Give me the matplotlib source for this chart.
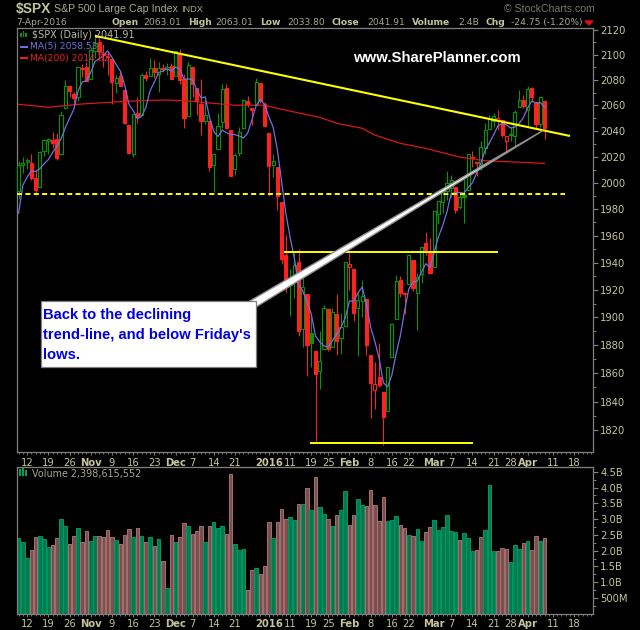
import matplotlib
matplotlib.use("Agg")
import matplotlib.pyplot as plt
from matplotlib.patches import Polygon, Rectangle
from matplotlib.ticker import FixedLocator, NullFormatter

opens = [1994.01,2013.73,2015.65,2015.00,2003.66,1996.47,2024.37,2031.73,2033.13,2033.47,2021.88,2058.19,2075.08,2068.75,2066.48,2088.35,2090.00,
 2080.76,2102.63,2110.60,2101.68,2098.60,2096.56,2077.19,2083.41,2072.29,2044.64,2022.08,2053.67,2051.99,2083.70,2082.82,2089.41,2084.42,2089.30,2088.82,2090.95,
 2082.93,2101.71,2080.71,2051.24,2090.42,2073.39,2061.17,2047.93,2047.27,2013.37,2025.55,2046.50,2073.76,2040.81,2010.27,2023.15,2042.20,2063.52,2057.77,2060.54,2077.34,2060.59,
 2038.20,2013.78,2011.71,1985.32,1945.97,1926.12,1927.83,1940.34,1891.68,1916.68,1888.66,1876.18,1861.46,1877.40,1906.28,1878.79,1902.52,1885.22,1894.00,
 1936.94,1935.26,1907.07,1911.67,1913.07,1873.25,1848.46,1857.10,1847.00,1833.40,1871.44,1898.80,1927.57,1916.74,1924.44,1942.38,1917.56,1931.87,1954.95,1947.13,
 1937.09,1976.60,1985.60,1994.01,1996.11,1996.88,1981.44,1990.97,1994.71,2019.27,2015.27,2014.24,2026.90,2041.16,2047.88,2048.64,2048.55,2032.48,2037.89,2035.75,2058.27,2063.77,
 2056.62,2073.19,2062.50,2045.56,2063.01]
highs = [2016.50,2020.13,2018.66,2022.34,2009.56,2024.15,2033.54,2034.45,2039.12,2037.97,2055.20,2079.74,2075.14,2070.37,2090.35,2092.52,2094.32,
 2106.20,2116.48,2114.59,2108.78,2101.91,2096.56,2083.67,2086.94,2072.29,2044.64,2053.22,2066.69,2085.31,2086.74,2097.06,2095.61,2094.12,2093.00,2093.29,2093.81,
 2103.37,2104.27,2085.00,2093.84,2090.42,2073.85,2080.33,2067.65,2047.27,2022.92,2053.87,2076.72,2076.37,2040.81,2022.90,2042.74,2064.73,2067.36,2057.77,2081.56,2077.34,2062.54,
 2038.20,2021.94,2011.71,1985.32,1960.40,1935.65,1947.38,1950.33,1934.47,1916.68,1901.44,1876.18,1889.85,1908.85,1906.28,1906.73,1916.99,1902.96,1940.24,
 1947.20,1935.26,1918.01,1927.35,1913.07,1873.25,1868.25,1881.60,1847.00,1864.78,1895.77,1930.68,1930.00,1918.78,1946.70,1942.38,1932.08,1951.83,1962.96,1958.27,
 1978.35,1986.51,1993.69,2009.13,2006.12,1996.88,1992.69,2005.08,2022.37,2024.57,2015.94,2032.02,2046.24,2052.36,2053.91,2056.60,2048.55,2036.04,2042.67,2055.91,2072.21,2067.92,
 2075.07,2074.02,2062.50,2067.33,2063.01]
lows = [1987.53,2007.61,2010.55,2001.78,1990.73,1996.47,2020.46,2022.31,2026.61,2017.22,2021.88,2058.19,2066.53,2058.84,2063.11,2082.63,2079.34,
 2080.76,2097.51,2096.98,2090.41,2083.74,2060.92,2069.91,2074.85,2045.66,2022.02,2019.39,2045.90,2051.99,2078.76,2082.82,2081.39,2070.29,2086.30,2084.13,2080.41,
 2082.93,2077.11,2042.35,2051.24,2066.78,2052.32,2036.53,2045.67,2008.80,1993.26,2025.55,2042.43,2041.66,2005.33,2005.93,2020.49,2042.20,2058.73,2044.20,2060.54,2061.97,2043.62,
 1989.68,2004.17,1979.05,1938.83,1918.46,1901.10,1914.35,1886.41,1878.93,1857.83,1864.60,1812.29,1848.98,1877.40,1875.97,1878.79,1872.70,1873.65,1894.00,
 1920.30,1897.29,1872.23,1900.52,1872.65,1828.46,1834.94,1850.32,1810.10,1833.40,1871.44,1898.80,1915.09,1902.17,1924.44,1919.44,1891.00,1925.41,1945.78,1931.81,
 1937.09,1968.80,1977.37,1986.77,1989.38,1977.43,1979.84,1969.25,1994.71,2012.05,2005.23,2010.04,2022.16,2041.16,2043.14,2040.57,2034.86,2022.49,2031.96,2028.31,2058.27,2057.46,
 2043.98,2062.57,2042.56,2043.09,2033.80]
closes = [2013.43,2014.89,2017.46,2003.69,1994.24,2023.86,2033.11,2033.66,2030.77,2018.94,2052.51,2075.15,2071.18,2065.89,2090.35,2089.41,2079.36,
 2104.05,2109.79,2102.31,2099.93,2099.20,2078.58,2081.72,2075.00,2045.97,2023.04,2053.19,2050.44,2083.58,2081.24,2089.17,2086.59,2089.14,2088.87,2090.11,2080.41,
 2102.63,2079.51,2049.62,2091.69,2077.07,2063.59,2047.62,2052.23,2012.37,2021.94,2043.41,2073.07,2041.89,2005.55,2021.15,2038.97,2064.29,2060.99,2056.50,2078.36,2063.36,2043.94,
 2012.66,2016.71,1990.26,1943.09,1922.03,1923.67,1938.68,1890.28,1921.84,1880.33,1881.33,1859.33,1868.99,1906.90,1877.08,1903.63,1882.95,1893.36,1940.24,
 1939.38,1903.03,1912.53,1915.45,1880.05,1853.44,1852.21,1851.86,1829.08,1864.78,1895.58,1926.82,1917.83,1917.78,1945.50,1921.27,1929.80,1951.70,1948.05,1932.23,
 1978.35,1986.45,1993.40,1999.99,2001.76,1979.26,1989.26,1989.57,2022.19,2019.64,2015.93,2027.22,2040.59,2049.58,2051.60,2049.80,2036.71,2035.94,2037.05,2055.01,2063.95,2059.74,
 2072.78,2066.13,2045.17,2066.66,2041.91]
ma5 = [1977.0,1998.2,2004.3,2009.1,2008.7,2010.8,2014.5,2017.7,2023.1,2028.1,2033.8,2042.2,2049.7,2056.7,2071.0,2078.4,2079.2,
 2085.8,2094.6,2097.0,2099.1,2103.1,2098.0,2092.3,2086.9,2076.1,2060.9,2055.8,2049.5,2051.2,2058.3,2071.5,2078.2,2085.9,2087.0,2088.8,2087.0,
 2090.2,2088.3,2080.5,2080.8,2080.1,2072.3,2065.9,2066.4,2050.6,2039.6,2035.5,2040.6,2038.5,2037.2,2037.0,2036.1,2034.4,2038.2,2048.4,2059.8,2064.7,2060.6,
 2051.0,2043.0,2025.4,2001.3,1977.0,1959.2,1943.5,1923.6,1919.3,1911.0,1902.5,1886.6,1882.4,1879.4,1878.7,1883.2,1887.9,1892.8,1899.5,
 1911.9,1911.8,1917.7,1922.1,1910.1,1892.9,1882.7,1870.6,1853.3,1850.3,1858.7,1873.6,1886.8,1904.6,1920.7,1925.8,1926.4,1933.2,1939.3,1936.6,
 1948.0,1959.4,1967.7,1978.1,1992.0,1992.2,1992.7,1992.0,1996.4,2000.0,2007.3,2014.9,2025.1,2030.6,2037.0,2043.8,2045.7,2044.7,2042.2,2042.9,2045.7,2050.3,
 2057.7,2063.5,2061.6,2062.1,2058.5]
ma200_idx = [0,7,15,23,29,35,40,46,51,58,62,71,75,81,84,90,96,104,110,121,124]
ma200 = [2060.7,2058.4,2061.0,2062.6,2063.6,2064.1,2063.3,2061.5,2060.0,2060.0,2056.8,2050.5,2045.9,2042.0,2036.7,2030.3,2026.4,2019.7,2016.9,2015.3,2014.8]
volume = [2.40,2.27,1.76,2.02,2.43,2.46,2.37,2.11,2.18,2.40,
 3.00,2.78,2.21,2.46,2.71,2.27,2.62,2.30,2.46,2.46,
 2.43,2.65,2.43,2.33,2.21,2.49,2.68,2.43,2.71,2.46,
 2.27,2.43,2.14,2.37,1.67,0.82,2.49,2.27,2.43,2.87,
 2.78,2.52,2.62,2.78,2.27,2.78,2.90,2.71,2.78,2.52,
 4.42,2.21,2.02,2.05,0.75,1.39,1.45,1.26,1.51,2.90,
 2.40,2.90,3.32,3.00,3.06,2.97,3.47,3.47,3.98,3.28,
 4.33,3.38,3.16,3.00,2.78,3.13,3.28,3.88,2.81,3.13,
 3.63,3.44,3.41,3.92,3.44,2.94,3.70,2.94,2.97,3.09,
 2.81,2.71,2.49,2.46,2.68,2.30,2.59,2.75,2.97,2.65,
 2.75,3.13,2.62,2.59,2.33,2.56,2.40,1.99,2.02,2.43,
 2.65,4.08,1.99,1.99,2.08,2.05,1.64,2.18,2.05,2.24,
 2.30,2.02,2.46,2.30,2.40]
volume_dir = ("gggrrgggrr" "ggrrgrrggr" "rrrgrrrgrg" "rgrgrgrgrr" "grrrgrgggr"
              "rgggrrgrrr" "grrrggrgrg" "rggrgrggrr" "ggrrrrrggg" "rrgrggrrgg"
              "ggggrgggrr" "gggrrrgggr" "grrgr")
tick_idx = [2,7,12,17,22,27,32,37,41,46,51,59,64,69,73,78,83,88,92,98,102,107,112,116,120,126,131]
tick_lab = ["12","19","26","Nov","9","16","23","Dec","7","14","21","2016","11","19","25","Feb","8","16","22","Mar","7","14","21","28","Apr","11","18"]
bold_lab = {"Nov","Dec","2016","Feb","Mar","Apr"}
price_ticks = [1820,1840,1860,1880,1900,1920,1940,1960,1980,2000,2020,2040,2060,2080,2100,2120]
vol_ticks = [0.5,1,1.5,2,2.5,3,3.5,4,4.5]
vol_tick_lab = ["500M","1.0B","1.5B","2.0B","2.5B","3.0B","3.5B","4.0B","4.5B"]

W, H = 640, 630
BG = "#000000"; AX = "#808080"; TXT = "#c4c49c"; VAL = "#a8a890"
GREEN = "#009a00"; RED = "#ff2020"; BLUE = "#7070e0"; YEL = "#ffff00"
plt.rcParams["font.family"] = ["DejaVu Sans"]
fig = plt.figure(figsize=(W/100, H/100), dpi=100, facecolor=BG)
def rect(x0, y0, x1, y1):
    return [x0/W, 1-y1/H, (x1-x0)/W, (y1-y0)/H]
def ftext(x, y, s, **k):
    k.setdefault("va", "center"); k.setdefault("ha", "left")
    fig.text(x/W, 1-y/H, s, **k)

ax = fig.add_axes(rect(16.5, 28.4, 593.3, 452.3), facecolor=BG)
ax2 = fig.add_axes(rect(16.5, 466.7, 593.3, 613.8), facecolor=BG)
n = len(closes)
xs = list(range(n))
prev = [1995.83] + closes[:-1]
col = [GREEN if c > p else RED for c, p in zip(closes, prev)]

ax.set_yscale("log")
ax.vlines(xs, lows, highs, colors=col, lw=0.75, zorder=2)
bot = [min(o, c) for o, c in zip(opens, closes)]
hgt = [max(abs(c-o), 0.3) for o, c in zip(opens, closes)]
face = [k if c < o else BG for k, o, c in zip(col, opens, closes)]
ax.bar(xs, hgt, 0.74, bot, color=face, edgecolor=col, lw=0.8, zorder=3)
ax.plot(ma200_idx, ma200, color="#d81818", lw=0.9, zorder=4)
ax.plot(xs, ma5, color=BLUE, lw=0.9, zorder=5)

# drawn annotations, in data coordinates
ax.plot([18, 130], [2115.2, 2036.0], color=YEL, lw=1.5, zorder=7, solid_capstyle="butt")
ax.plot([-0.5, 128.9], [1991.6, 1991.6], color=YEL, lw=1.4, ls=(0, (2.6, 1.7)), zorder=6)
ax.plot([62.8, 112.9], [1947.9, 1947.9], color=YEL, lw=1.4, zorder=6)
ax.plot([68.9, 106.9], [1811.1, 1811.1], color=YEL, lw=1.4, zorder=6)

ax.set_xlim(-0.5, 135.5)
ax.set_ylim(1804.8, 2121.2)
ax.yaxis.set_major_locator(FixedLocator(price_ticks))
ax.yaxis.set_minor_locator(FixedLocator([p+10 for p in price_ticks[:-1]]))
ax.yaxis.set_minor_formatter(NullFormatter())
ax.set_yticklabels([str(p) for p in price_ticks])

ax2.bar(xs, volume, 0.84,
        color=["#007a50" if d == "g" else "#7a4f50" for d in volume_dir],
        edgecolor=["#009a60" if d == "g" else "#a87070" for d in volume_dir], lw=0.7)
ax2.set_xlim(-0.5, 135.5)
ax2.set_ylim(0, 4.66)
ax2.set_yticks(vol_ticks, vol_tick_lab)
ax2.yaxis.set_minor_locator(FixedLocator([v+0.25 for v in vol_ticks[:-1]] + [0.25]))

for a in (ax, ax2):
    for s in a.spines.values():
        s.set_color(AX); s.set_linewidth(0.9)
    a.yaxis.tick_right()
    a.tick_params(axis="y", which="major", right=True, left=False, colors=AX, labelcolor=TXT,
                  labelsize=7.2, length=3.5, width=0.8, pad=1.5)
    a.tick_params(axis="y", which="minor", right=True, left=False, colors=AX, length=2, width=0.7)
    a.set_xticks(tick_idx)
    a.set_xticklabels(tick_lab)
    a.xaxis.set_minor_locator(FixedLocator(range(0, 136)))
    a.tick_params(axis="x", which="major", colors=AX, labelcolor=TXT, labelsize=7.2, length=2.5, width=0.7, pad=1.5)
    a.tick_params(axis="x", which="minor", colors=AX, length=1.5, width=0.6)
    for t in a.get_xticklabels():
        if t.get_text() in bold_lab:
            t.set_fontweight("bold")

# header
LS = "Liberation Sans"
ftext(16, 9.5, "$SPX", color=TXT, fontsize=9.9, fontweight="bold", family=LS)
ftext(54, 9.5, "S&P 500 Large Cap Index", color=VAL, fontsize=7.7, family=LS)
ftext(181, 9.5, "INDX", color=VAL, fontsize=6.6, family=LS)
ftext(504, 9.5, "\u00a9 StockCharts.com", color="#78786a", fontsize=7.6, family=LS)
ftext(16, 22.5, "7-Apr-2016", color=VAL, fontsize=6.6)
row = [(111,"Open",1),(143,"2063.01",0),(188,"High",1),(215,"2063.01",0),(260,"Low",1),(287,"2033.80",0),
       (332,"Close",1),(367,"2041.91",0),(412,"Volume",1),(458,"2.4B",0),(486,"Chg",1),(511,"-24.75 (-1.20%)",0)]
for x, s, b in row:
    ftext(x, 22.5, s, color=TXT if b else VAL, fontsize=6.6, fontweight="bold" if b else "normal")
fig.add_artist(Polygon([[585/W, 1-21/H], [593/W, 1-21/H], [589/W, 1-25/H]], color="#e01010", transform=fig.transFigure))

# legend labels
ftext(32, 35.5, "$SPX (Daily) 2041.91", color="#b8b8a8", fontsize=6.9)
ftext(30, 46.5, "MA(5) 2058.53", color=BLUE, fontsize=6.6)
ftext(30, 58, "MA(200) 2014.82", color="#f02020", fontsize=6.6)
ftext(353, 58, "www.SharePlanner.com", color="white", fontsize=10.7, fontweight="bold", family=LS)
ftext(32, 473.6, "Volume 2,398,615,552", color=VAL, fontsize=6.9)

# pixel-placed legend glyphs and call-out
def P(pts):
    return [(x/W, 1-y/H) for x, y in pts]
for (x0, y0, x1, y1, c) in [(20,46,28,47.5,BLUE),(20,57,28,58.5,"#f02020"),
                            (20,33,21.5,37,GREEN),(22.5,31,24,37,GREEN),(25,33,26.5,37,GREEN),
                            (19,469,21,476,"#00a060"),(22,468,24,476,"#00a060"),(25,470,27,476,"#00a060")]:
    fig.add_artist(Rectangle((x0/W, 1-y1/H), (x1-x0)/W, (y1-y0)/H, color=c, lw=0, transform=fig.transFigure))
wedge = Polygon(P([(249, 301.5), (256, 307), (543, 130.5)]), closed=True, facecolor="white",
                edgecolor="#909090", lw=1.0, transform=fig.transFigure, zorder=20)
box = Rectangle((40.5/W, 1-367/H), 215/W, 65.7/H, facecolor="white", edgecolor="#808080", lw=0.9,
                transform=fig.transFigure, zorder=21)
fig.add_artist(wedge); fig.add_artist(box)
for y, s in [(315, "Back to the declining"), (335, "trend-line, and below Friday's"), (355, "lows.")]:
    ftext(43, y, s, color="#0000e6", fontsize=10.6, fontweight="bold", family=LS, zorder=22)

fig.savefig("out.png", dpi=100, facecolor=BG)
